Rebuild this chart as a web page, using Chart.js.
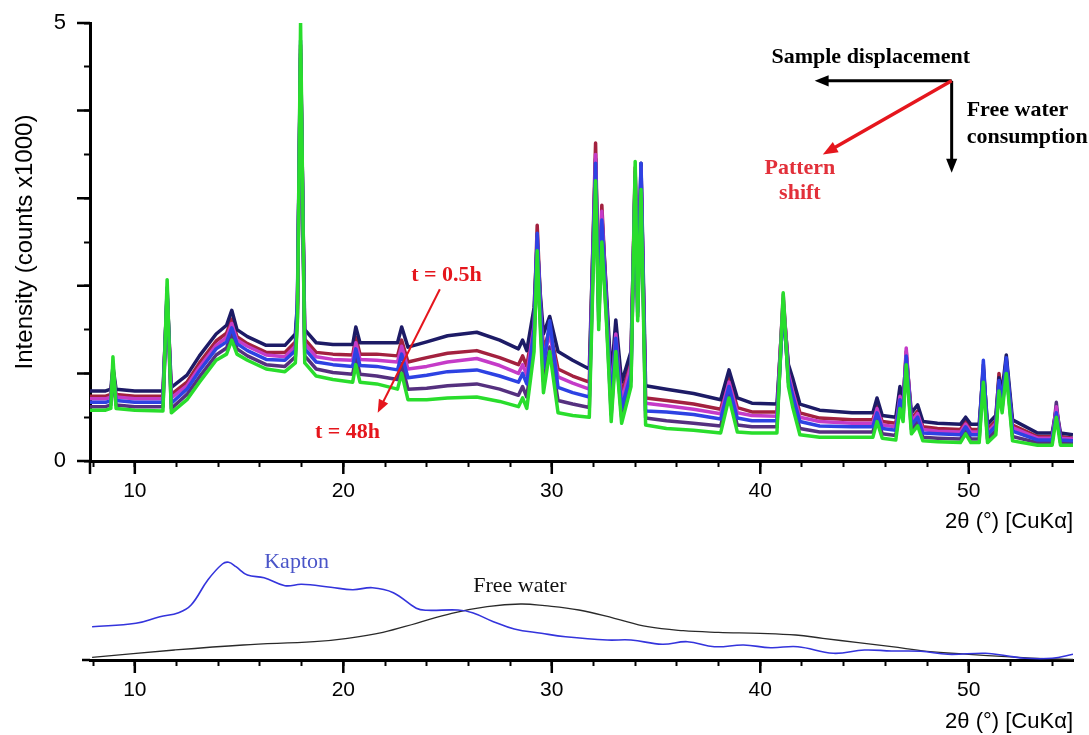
<!DOCTYPE html>
<html>
<head>
<meta charset="utf-8">
<script src="https://cdn.jsdelivr.net/npm/chart.js@4.4.1/dist/chart.umd.min.js"></script>
<style>
  html, body { margin: 0; padding: 0; background: #fff; }
  #wrap { position: relative; width: 1089px; height: 735px; }
  #topBox { position: absolute; left: 0; top: 0; width: 1089px; height: 540px; }
  #botBox { position: absolute; left: 0; top: 540px; width: 1089px; height: 195px; }
</style>
</head>
<body>
<div id="wrap">
  <div id="topBox"><canvas id="xrdChart"></canvas></div>
  <div id="botBox"><canvas id="refChart"></canvas></div>
</div>
<script>
// 2theta positions (deg) shared by all in-situ scans
const twoTheta = [7.85, 8.6, 8.85, 8.95, 9.1, 10.0, 11.35, 11.55, 11.75, 12.5,
  13.1, 13.9, 14.4, 14.65, 14.9, 15.4, 16.3, 17.2, 17.7, 17.8,
  17.95, 18.15, 18.7, 19.5, 20.45, 20.6, 20.8, 21.6, 22.6, 22.8,
  23.1, 24.0, 25.0, 26.4, 27.5, 28.4, 28.6, 28.8, 29.15, 29.3,
  29.45, 29.6, 29.9, 30.3, 31.0, 31.8, 32.1, 32.25, 32.4, 32.62,
  32.85, 33.07, 33.35, 33.8, 34.0, 34.12, 34.28, 34.5, 35.5, 36.8,
  38.1, 38.5, 38.9, 39.6, 40.8, 41.1, 41.35, 41.55, 41.9, 42.85,
  44.4, 45.4, 45.6, 45.85, 46.5, 46.7, 46.85, 47.0, 47.25, 47.55,
  47.8, 48.5, 49.6, 49.85, 50.1, 50.5, 50.7, 50.9, 51.3, 51.45,
  51.6, 51.8, 52.1, 53.3, 54.0, 54.2, 54.4, 55.0];

// intensities (counts x1000), earliest scan first
const scan05h = [.80, .80, .82, 1.08, .82, .80, .80, 1.9, .84, .98,
  1.20, 1.45, 1.55, 1.72, 1.50, 1.42, 1.32, 1.32, 1.45, 1.80,
  4.60, 1.50, 1.35, 1.33, 1.33, 1.53, 1.35, 1.35, 1.35, 1.53,
  1.30, 1.36, 1.43, 1.47, 1.38, 1.28, 1.38, 1.26, 1.75, 2.50,
  1.90, 1.45, 1.65, 1.25, 1.15, 1.05, 3.45, 1.90, 2.80, 1.93,
  .95, 1.61, .90, 1.25, 3.20, 1.85, 3.40, .86, .82, .77,
  .70, 1.04, .72, .66, .65, 1.80, 1.10, .95, .65, .58,
  .55, .55, .72, .52, .50, .85, .70, 1.20, .55, .64,
  .45, .43, .42, .50, .42, .42, 1.05, .42, .52, .95,
  .80, 1.21, .47, .32, .32, .60, .32, .30];

const scanB = [.74, .74, .76, 1.05, .76, .74, .74, 1.95, .76, .90,
  1.12, 1.37, 1.46, 1.62, 1.42, 1.34, 1.24, 1.24, 1.36, 1.75,
  4.75, 1.39, 1.24, 1.22, 1.21, 1.41, 1.22, 1.22, 1.20, 1.38,
  1.13, 1.18, 1.23, 1.26, 1.18, 1.10, 1.20, 1.08, 1.60, 2.69,
  1.85, 1.26, 1.50, 1.05, .97, .90, 3.63, 1.80, 2.92, 1.85,
  .80, 1.50, .76, 1.15, 3.35, 1.80, 3.30, .72, .69, .65,
  .59, .95, .61, .56, .56, 1.85, 1.05, .85, .55, .49,
  .47, .47, .63, .45, .43, .78, .63, 1.25, .48, .57,
  .39, .37, .36, .45, .36, .36, 1.10, .36, .46, 1.00,
  .74, 1.15, .41, .28, .28, .58, .28, .26];

const scanC = [.71, .71, .73, 1.04, .73, .71, .71, 1.90, .72, .86,
  1.07, 1.32, 1.41, 1.57, 1.38, 1.31, 1.21, 1.19, 1.31, 1.70,
  4.70, 1.34, 1.19, 1.16, 1.15, 1.35, 1.16, 1.15, 1.13, 1.31,
  1.05, 1.08, 1.13, 1.17, 1.09, 1.00, 1.10, .98, 1.55, 2.55,
  1.80, 1.17, 1.45, .96, .89, .82, 3.50, 1.75, 2.85, 1.80,
  .72, 1.45, .68, 1.10, 3.30, 1.75, 3.35, .66, .63, .59,
  .54, .90, .55, .52, .51, 1.90, 1.00, .80, .50, .45,
  .43, .43, .60, .41, .39, .74, .60, 1.29, .45, .54,
  .36, .34, .33, .42, .33, .33, 1.00, .33, .43, .90,
  .70, 1.10, .38, .26, .26, .62, .26, .25];

const scanD = [.67, .67, .69, 1.02, .69, .67, .67, 1.98, .66, .82,
  1.03, 1.28, 1.36, 1.52, 1.34, 1.26, 1.16, 1.15, 1.26, 1.85,
  4.80, 1.28, 1.13, 1.10, 1.08, 1.28, 1.09, 1.08, 1.04, 1.22,
  .95, .98, 1.02, 1.04, .97, .90, 1.00, .88, 1.50, 2.60,
  1.75, 1.06, 1.60, .84, .78, .73, 3.40, 1.70, 2.75, 1.75,
  .63, 1.40, .60, 1.00, 3.25, 1.70, 3.40, .57, .56, .53,
  .48, .85, .49, .46, .46, 1.75, .95, .75, .45, .40,
  .39, .39, .55, .37, .35, .70, .56, 1.20, .41, .50,
  .32, .31, .30, .39, .30, .30, 1.15, .30, .40, .92,
  .66, 1.18, .34, .24, .24, .55, .24, .23];

const scanE = [.62, .62, .64, .99, .64, .62, .62, 1.85, .60, .76,
  .96, 1.21, 1.29, 1.45, 1.28, 1.20, 1.10, 1.08, 1.19, 1.65,
  4.65, 1.20, 1.05, 1.01, .99, 1.19, .99, .97, .93, 1.11,
  .82, .83, .86, .88, .82, .75, .85, .73, 1.35, 2.30,
  1.60, .91, 1.30, .69, .65, .61, 3.30, 1.60, 2.60, 1.65,
  .53, 1.30, .50, .92, 3.30, 1.65, 3.20, .49, .46, .43,
  .40, .78, .41, .39, .39, 1.80, .90, .68, .37, .33,
  .33, .33, .50, .31, .29, .64, .50, 1.15, .36, .45,
  .27, .26, .25, .35, .25, .25, .95, .25, .35, .85,
  .60, 1.05, .28, .21, .21, .67, .21, .20];

const scan48h = [.58, .58, .60, 1.19, .60, .58, .57, 2.07, .55, .70,
  .90, 1.15, 1.22, 1.38, 1.22, 1.15, 1.05, 1.02, 1.12, 1.60,
  5.00, 1.12, .97, .93, .90, 1.10, .90, .88, .82, 1.00,
  .70, .70, .72, .73, .68, .62, .72, .60, 1.25, 2.40,
  1.50, .78, 1.25, .55, .52, .50, 3.20, 1.50, 2.50, 1.60,
  .45, 1.25, .43, .85, 3.42, 1.60, 3.10, .41, .37, .35,
  .32, .72, .33, .32, .32, 1.92, .85, .62, .30, .27,
  .27, .27, .45, .26, .24, .60, .45, 1.10, .31, .40,
  .23, .22, .21, .31, .21, .21, .90, .21, .30, .80,
  .55, 1.00, .23, .18, .18, .50, .18, .18];

// reference profiles (arbitrary units)
const kaptonX = [7.95, 10.05, 11.2, 12.1, 12.7, 13.5, 14.2, 14.5, 14.85, 15.4,
  16.2, 17.2, 18.0, 19.4, 20.45, 21.4, 22.4, 23.5, 24.0, 25.5,
  26.2, 27.2, 28.2, 29.5, 30.66, 32.66, 33.8, 35.3, 36.5, 37.8,
  39.2, 40.5, 41.8, 43.5, 45.0, 46.3, 47.7, 49.0, 50.8, 51.8,
  52.7, 54.0, 55.0];
const kaptonY = [33.3, 36.7, 43.3, 47.3, 55, 80, 96, 97.7, 93.3, 85,
  82.3, 74.3, 75.7, 72.7, 70.3, 72.3, 67.3, 51.7, 49.7, 50,
  47.3, 38.3, 31, 26.7, 23.3, 20, 20, 15.7, 18.3, 13.3,
  15, 12.3, 13.3, 6.7, 10, 9, 8.7, 5.7, 6.7, 4.3,
  1.7, 1.7, 5.7];
const waterX = [7.95, 11.9, 15.2, 18.6, 20.2, 21.9, 23.5, 25.2, 26.9, 28.5,
  29.66, 31.3, 33.0, 34.6, 36.3, 38.0, 40.0, 41.7, 43.0, 44.7,
  46.3, 48.0, 50.0, 51.8, 53.6, 55.0];
const waterY = [2.7, 10, 15, 18.3, 21.7, 27.7, 36.7, 46.7, 53.3, 56,
  54.3, 50, 41.7, 33.3, 29.3, 27.7, 26.7, 25, 21.7, 17.3,
  13.3, 8.7, 5.7, 3.3, 1.3, 0.7];

const sansFont = 'Arial, "Liberation Sans", sans-serif';
const serifFont = '"Times New Roman", "Liberation Serif", serif';

function toPoints(xs, ys) {
  return xs.map((x, i) => ({ x: x, y: ys[i] }));
}

function drawArrow(ctx, x1, y1, x2, y2, color, width, head) {
  const ang = Math.atan2(y2 - y1, x2 - x1);
  ctx.strokeStyle = color;
  ctx.fillStyle = color;
  ctx.lineWidth = width;
  ctx.beginPath();
  ctx.moveTo(x1, y1);
  ctx.lineTo(x2 - Math.cos(ang) * head * 0.8, y2 - Math.sin(ang) * head * 0.8);
  ctx.stroke();
  ctx.beginPath();
  ctx.moveTo(x2, y2);
  ctx.lineTo(x2 - head * Math.cos(ang - 0.38), y2 - head * Math.sin(ang - 0.38));
  ctx.lineTo(x2 - head * Math.cos(ang + 0.38), y2 - head * Math.sin(ang + 0.38));
  ctx.closePath();
  ctx.fill();
}

// long ticks at the labelled values, plus little axis stubs
const axisMarks = {
  id: 'axisMarks',
  afterDraw(chart, args, opts) {
    const ctx = chart.ctx;
    const area = chart.chartArea;
    const xs = chart.scales.x;
    ctx.save();
    ctx.strokeStyle = '#000';
    ctx.lineWidth = 2.5;
    ctx.beginPath();
    xs.ticks.forEach(t => {
      if (t.value % 10 === 0) {
        const px = xs.getPixelForValue(t.value);
        ctx.moveTo(px, area.bottom);
        ctx.lineTo(px, area.bottom + 13);
      }
    });
    if (opts.yAxis) {
      const ys = chart.scales.y;
      ys.ticks.forEach(t => {
        if (Number.isInteger(t.value)) {
          const py = ys.getPixelForValue(t.value);
          ctx.moveTo(area.left, py);
          ctx.lineTo(area.left - 13, py);
        }
      });
      ctx.moveTo(area.left, area.bottom);
      ctx.lineTo(area.left, area.bottom + 13);
    } else {
      ctx.moveTo(area.left - 8, area.bottom);
      ctx.lineTo(area.left, area.bottom);
    }
    ctx.stroke();
    ctx.restore();
  }
};

// text labels and arrows, anchored in data coordinates
const notes = {
  id: 'notes',
  afterDatasetsDraw(chart, args, opts) {
    const ctx = chart.ctx;
    const xs = chart.scales.x, ys = chart.scales.y;
    const X = v => xs.getPixelForValue(v);
    const Y = v => ys.getPixelForValue(v);
    ctx.save();
    (opts.arrows || []).forEach(a => {
      drawArrow(ctx, X(a.from[0]), Y(a.from[1]), X(a.to[0]), Y(a.to[1]), a.color, a.width, a.head);
    });
    ctx.textBaseline = 'middle';
    (opts.labels || []).forEach(l => {
      ctx.font = l.font;
      ctx.fillStyle = l.color;
      ctx.textAlign = l.align || 'center';
      ctx.fillText(l.text, X(l.at[0]), Y(l.at[1]));
    });
    ctx.restore();
  }
};

function xAxis(height, titlePad) {
  return {
    type: 'linear',
    min: 7.85,
    max: 55,
    afterFit: s => { s.height = height; s.paddingLeft = 0; s.paddingRight = 0; },
    border: { display: true, color: '#000', width: 3 },
    grid: { drawOnChartArea: false, drawTicks: true, tickLength: 6, tickWidth: 2, tickColor: '#000' },
    ticks: {
      stepSize: 2,
      includeBounds: false,
      autoSkip: false,
      maxRotation: 0,
      color: '#000',
      padding: 12,
      font: { family: sansFont, size: 21 },
      callback: v => (v % 10 === 0 ? v : '')
    },
    title: {
      display: true,
      text: '2θ (°) [CuKα]',
      align: 'end',
      color: '#000',
      font: { family: sansFont, size: 22 },
      padding: { top: 0, bottom: titlePad }
    }
  };
}

const red = '#e5161d';
const boldSerif = 'bold 22px ' + serifFont;

const scanStyles = [
  { data: scan05h, color: '#1d1b66', order: 3 },
  { data: scanB, color: '#a3213f', order: 4 },
  { data: scanC, color: '#c53bc8', order: 2 },
  { data: scanD, color: '#2d42e3', order: 1 },
  { data: scanE, color: '#55307f', order: 5 },
  { data: scan48h, color: '#29dd2c', order: 0 }
];

new Chart(document.getElementById('xrdChart'), {
  type: 'line',
  data: {
    datasets: scanStyles.map(s => ({
      data: toPoints(twoTheta, s.data),
      borderColor: s.color,
      borderWidth: 3.5,
      order: s.order
    }))
  },
  options: {
    responsive: true,
    maintainAspectRatio: false,
    animation: false,
    layout: { padding: { top: 23, right: 16, left: 0, bottom: 0 } },
    elements: { point: { radius: 0 }, line: { tension: 0, borderJoinStyle: 'round' } },
    plugins: {
      legend: { display: false },
      tooltip: { enabled: false },
      axisMarks: { yAxis: true },
      notes: {
        arrows: [
          { from: [24.63, 1.96], to: [21.65, 0.55], color: red, width: 2, head: 14 },
          { from: [49.18, 4.34], to: [42.61, 4.34], color: '#000', width: 3, head: 15 },
          { from: [49.18, 4.34], to: [49.18, 3.29], color: '#000', width: 3, head: 15 },
          { from: [49.18, 4.34], to: [43.0, 3.5], color: red, width: 3.5, head: 16 }
        ],
        labels: [
          { text: 't = 0.5h', at: [24.95, 2.12], color: red, font: boldSerif },
          { text: 't = 48h', at: [20.2, 0.33], color: red, font: boldSerif },
          { text: 'Sample displacement', at: [45.3, 4.61], color: '#000', font: boldSerif },
          { text: 'Free water', at: [49.9, 4.0], color: '#000', font: boldSerif, align: 'left' },
          { text: 'consumption', at: [49.9, 3.69], color: '#000', font: boldSerif, align: 'left' },
          { text: 'Pattern', at: [41.9, 3.34], color: '#e2303a', font: boldSerif },
          { text: 'shift', at: [41.9, 3.06], color: '#e2303a', font: boldSerif }
        ]
      }
    },
    scales: {
      x: xAxis(79, 5),
      y: {
        min: 0,
        max: 5,
        afterFit: s => { s.width = 90; s.paddingTop = 0; s.paddingBottom = 0; },
        border: { display: true, color: '#000', width: 3 },
        grid: { drawOnChartArea: false, drawTicks: true, tickLength: 6, tickWidth: 2, tickColor: '#000' },
        ticks: {
          stepSize: 0.5,
          color: '#000',
          padding: 18,
          font: { family: sansFont, size: 22 },
          callback: v => (v === 0 || v === 5 ? v : '')
        },
        title: {
          display: true,
          text: 'Intensity (counts x1000)',
          color: '#000',
          font: { family: sansFont, size: 24 },
          padding: { top: 11, bottom: 0 }
        }
      }
    }
  },
  plugins: [axisMarks, notes]
});

new Chart(document.getElementById('refChart'), {
  type: 'line',
  data: {
    datasets: [
      {
        label: 'Kapton',
        data: toPoints(kaptonX, kaptonY),
        borderColor: '#3434dc',
        borderWidth: 1.6,
        tension: 0.4
      },
      {
        label: 'Free water',
        data: toPoints(waterX, waterY),
        borderColor: '#2a2a2a',
        borderWidth: 1.3,
        tension: 0.4
      }
    ]
  },
  options: {
    responsive: true,
    maintainAspectRatio: false,
    animation: false,
    layout: { padding: { top: 20, right: 16, left: 90, bottom: 0 } },
    elements: { point: { radius: 0 } },
    plugins: {
      legend: { display: false },
      tooltip: { enabled: false },
      axisMarks: { yAxis: false },
      notes: {
        labels: [
          { text: 'Kapton', at: [17.76, 97.3], color: '#4a55c8', font: '22px ' + serifFont },
          { text: 'Free water', at: [28.47, 73.3], color: '#111', font: '22px ' + serifFont }
        ]
      }
    },
    scales: {
      x: xAxis(75, 0),
      y: { display: false, min: 0, max: 100 }
    }
  },
  plugins: [axisMarks, notes]
});
</script>
</body>
</html>
